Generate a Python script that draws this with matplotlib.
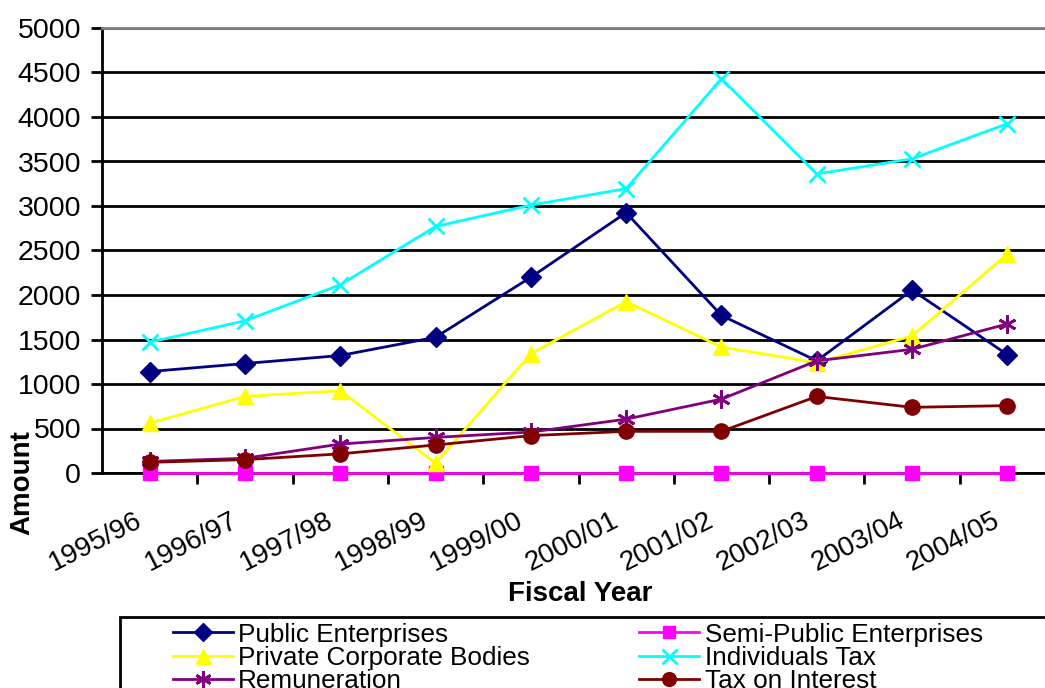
import numpy as np
import matplotlib
matplotlib.use("Agg")
import matplotlib.pyplot as plt
from matplotlib.patches import Rectangle
from matplotlib.transforms import ScaledTranslation

plt.rcParams['font.family'] = ['Liberation Sans', 'DejaVu Sans']

years = ["1995/96", "1996/97", "1997/98", "1998/99", "1999/00",
         "2000/01", "2001/02", "2002/03", "2003/04", "2004/05"]

public_ent = [1140, 1230, 1320, 1525, 2200, 2925, 1770, 1260, 2055, 1330]
semi_public = [0, 0, 0, 0, 0, 0, 0, 0, 0, 0]
private_corp = [560, 860, 925, 110, 1340, 1925, 1415, 1240, 1540, 2460]
individuals = [1470, 1710, 2115, 2770, 3010, 3195, 4430, 3360, 3530, 3925]
remuneration = [130, 165, 325, 400, 460, 605, 830, 1260, 1390, 1675]
tax_interest = [120, 150, 215, 315, 420, 468, 468, 860, 738, 757]

W, H = 1045, 688
fig = plt.figure(figsize=(W / 100, H / 100), dpi=100)
ax = fig.add_axes([102 / W, (H - 473) / H, 953 / W, 445 / H])

x = np.arange(len(years))
ms = 10
series = [
    ("Public Enterprises", public_ent, "#000080", "D", ms),
    ("Semi-Public Enterprises", semi_public, "#FF00FF", "s", ms),
    ("Private Corporate Bodies", private_corp, "#FFFF00", "^", ms + 2),
    ("Individuals Tax", individuals, "#00FFFF", "x", ms + 2),
    ("Remuneration", remuneration, "#800080", (6, 2, 0), ms + 3),
    ("Tax on Interest", tax_interest, "#800000", "o", ms + 1),
]
handles = {}
for name, vals, col, mk, size in series:
    h, = ax.plot(x, vals, color=col, lw=2.0, marker=mk, markersize=size,
                 markeredgewidth=2.0 if mk in ("x", (6, 2, 0)) else 1,
                 markerfacecolor=col, markeredgecolor=col, label=name,
                 clip_on=False, zorder=3)
    handles[name] = h

ax.set_xlim(-0.5, 9.5)
ax.set_ylim(0, 5000)
ax.set_yticks(np.arange(0, 5001, 500))
ax.grid(axis='y', color='black', lw=2)
ax.set_axisbelow(True)

# category ticks between groups; labels placed at the category centres
ax.set_xticks(np.arange(len(years) - 1) + 0.5)
ax.set_xticklabels([])
ax.tick_params(axis='x', which='major', length=8, width=2, direction='out')
ax.tick_params(axis='y', length=8, width=2, pad=7, labelsize=20.5)

lab_tr = ax.get_xaxis_transform() + ScaledTranslation(-9 / 100, -46 / 100,
                                                      fig.dpi_scale_trans)
for xi, yr in zip(x, years):
    ax.text(xi, 0, yr, transform=lab_tr, rotation=27, ha='right', va='center',
            rotation_mode='anchor', fontsize=20, clip_on=False)

ax.spines['right'].set_visible(False)
ax.spines['top'].set_color('#808080')
ax.spines['top'].set_linewidth(2)
ax.spines['left'].set_linewidth(2)
ax.spines['bottom'].set_linewidth(2)

fig.text(22 / W, 1 - 483 / H, "Amount", rotation=90, ha='center', va='center',
         fontsize=20, fontweight='bold')
fig.text(580 / W, 1 - 594 / H, "Fiscal Year", ha='center', va='center',
         fontsize=20, fontweight='bold')

# legend frame runs off the bottom/right of the picture
fig.patches.append(Rectangle((120 / W, -0.2), 1.2, 1 - 617 / H + 0.2,
                             transform=fig.transFigure, fill=False,
                             edgecolor='black', lw=2))
order = ["Public Enterprises", "Private Corporate Bodies", "Remuneration",
         "Semi-Public Enterprises", "Individuals Tax", "Tax on Interest"]
fig.legend([handles[n] for n in order], order, ncol=2, frameon=False,
           loc='upper left', bbox_to_anchor=(170 / W, 1 - 620 / H),
           borderaxespad=0, borderpad=0.1, fontsize=18.8, labelspacing=-0.03,
           handlelength=2.3, handletextpad=0.2, columnspacing=4.2,
           markerscale=0.9)

fig.savefig("out.png", dpi=100)
